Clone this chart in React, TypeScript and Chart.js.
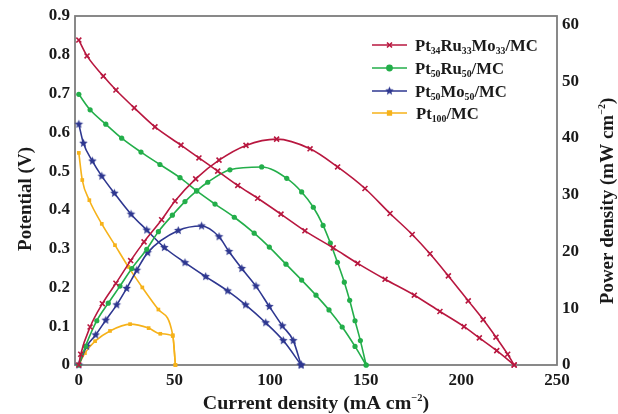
import React, { useEffect, useRef } from 'react';
import { Chart, registerables } from 'chart.js';
import { drawPoint } from 'chart.js/helpers';

Chart.register(...registerables);

// ---------- data (x = current density mA cm^-2, V = potential V, P = power density mW cm^-2)
const seriesNames = ['Pt34Ru33Mo33/MC', 'Pt50Ru50/MC', 'Pt50Mo50/MC', 'Pt100/MC'];
const seriesColors = ['#b8173f', '#23ae4a', '#2e3790', '#f6b21a'];

const ptRuMoPolX = [0, 4.3, 12.8, 19.4, 29.0, 39.8, 53.4, 62.8, 72.6, 83.1, 93.5, 105.7, 118.2, 133.0, 145.8, 160.1, 175.4, 188.8, 201.4, 209.4, 218.5, 227.6];
const ptRuMoPolV = [0.838, 0.797, 0.745, 0.709, 0.663, 0.614, 0.567, 0.534, 0.5, 0.463, 0.43, 0.389, 0.346, 0.302, 0.262, 0.221, 0.18, 0.138, 0.099, 0.07, 0.037, 0];
const ptRuMoPowX = [0, 1.0, 5.9, 12.3, 19.4, 27.1, 34.1, 43.3, 50.3, 61.1, 73.3, 87.4, 103.4, 120.9, 135.3, 149.6, 162.7, 174.3, 183.6, 193.2, 203.6, 211.4, 218.1, 224.2, 227.6];
const ptRuMoPowP = [0, 1.9, 6.7, 10.8, 14.4, 18.4, 21.7, 25.6, 28.9, 32.8, 36.1, 38.7, 39.8, 38.1, 34.9, 31.1, 26.7, 23.0, 19.6, 15.7, 11.3, 8.0, 4.9, 1.9, 0];

const ptRuPolX = [0, 5.9, 14.1, 22.4, 32.5, 42.4, 52.9, 61.6, 71.2, 81.3, 91.7, 99.6, 108.3, 116.5, 124.0, 130.8, 137.7, 144.4, 150.2];
const ptRuPolV = [0.698, 0.658, 0.621, 0.585, 0.549, 0.517, 0.483, 0.449, 0.415, 0.381, 0.34, 0.304, 0.26, 0.219, 0.18, 0.142, 0.098, 0.048, 0];
const ptRuPowX = [0, 3.5, 9.4, 15.4, 21.5, 27.7, 35.5, 41.6, 48.9, 55.5, 61.6, 67.4, 79.0, 95.6, 108.7, 116.5, 122.6, 127.7, 131.5, 135.2, 138.8, 141.6, 144.4, 147.2, 150.2];
const ptRuPowP = [0, 3.3, 7.8, 10.9, 13.9, 17.0, 20.4, 23.5, 26.4, 28.8, 30.7, 32.2, 34.4, 34.9, 32.9, 30.5, 27.8, 24.6, 21.5, 18.1, 14.6, 11.4, 7.8, 4.3, 0];

const ptMoPolX = [0, 2.4, 7.1, 12.0, 18.6, 27.3, 35.5, 44.7, 55.5, 66.3, 77.8, 87.2, 97.7, 106.9, 116.2];
const ptMoPolV = [0.621, 0.572, 0.526, 0.487, 0.443, 0.389, 0.348, 0.303, 0.264, 0.228, 0.191, 0.155, 0.109, 0.063, 0];
const ptMoPowX = [0, 4.1, 8.8, 14.1, 19.8, 25.0, 30.3, 36.0, 52.0, 64.2, 73.3, 78.5, 85.2, 92.6, 99.6, 106.4, 112.1, 116.2];
const ptMoPowP = [0, 3.3, 5.3, 7.9, 10.6, 13.5, 16.7, 19.8, 23.7, 24.5, 22.6, 20.0, 17.0, 13.9, 10.3, 6.9, 4.3, 0];

const ptPolX = [0, 1.8, 5.5, 12.0, 18.9, 25.9, 33.2, 41.6, 49.1, 50.5];
const ptPolV = [0.547, 0.477, 0.425, 0.364, 0.309, 0.253, 0.2, 0.143, 0.077, 0];
const ptPowX = [0, 3.2, 8.5, 16.3, 26.8, 36.5, 42.6, 49.1, 50.5];
const ptPowP = [0, 2.1, 4.2, 6.0, 7.2, 6.5, 5.5, 5.1, 0];

const xTicks = [0, 50, 100, 150, 200, 250];
const leftTicks = [0, 0.1, 0.2, 0.3, 0.4, 0.5, 0.6, 0.7, 0.8, 0.9];
const rightTicks = [0, 10, 20, 30, 40, 50, 60];

const xTitle: [string, number][] = [['Current density (mA cm', 0], ['\u22122', 1], [')', 0]];
const leftTitle: [string, number][] = [['Potential (V)', 0]];
const rightTitle: [string, number][] = [['Power density (mW cm', 0], ['\u22122', 1], [')', 0]];

// ---------- helpers
const SERIF = '"Liberation Serif", "Times New Roman", serif';

const zip = (xs: number[], ys: number[]) => xs.map((x, i) => ({ x, y: ys[i] }));

function makeStar(color: string, r: number) {
  const c = document.createElement('canvas');
  const s = Math.ceil(r * 2 + 2);
  c.width = s;
  c.height = s;
  const g = c.getContext('2d')!;
  g.fillStyle = color;
  g.beginPath();
  for (let i = 0; i < 10; i++) {
    const a = -Math.PI / 2 + (i * Math.PI) / 5;
    const rr = i % 2 === 0 ? r : r * 0.45;
    g.lineTo(s / 2 + rr * Math.cos(a), s / 2 + rr * Math.sin(a));
  }
  g.closePath();
  g.fill();
  return c;
}

function drawRich(ctx: CanvasRenderingContext2D, parts: [string, number][], x: number, y: number, size: number, align: 'left' | 'center', sx: number, ratio = 0.6) {
  const small = Math.round(size * ratio);
  const fontFor = (m: number) => `bold ${m === 0 ? size : small}px ${SERIF}`;
  let w = 0;
  for (const [t, m] of parts) {
    ctx.font = fontFor(m);
    w += ctx.measureText(t).width;
  }
  ctx.save();
  ctx.translate(x, y);
  ctx.scale(sx, 1);
  ctx.textAlign = 'left';
  ctx.textBaseline = 'alphabetic';
  let cx = align === 'center' ? -w / 2 : 0;
  for (const [t, m] of parts) {
    ctx.font = fontFor(m);
    const dy = m === 1 ? -size * 0.4 : m === -1 ? size * 0.2 : 0;
    ctx.fillText(t, cx, dy);
    cx += ctx.measureText(t).width;
  }
  ctx.restore();
}

function nameParts(name: string): [string, number][] {
  const out: [string, number][] = [];
  const re = /(\d+)|(\D+)/g;
  let m;
  while ((m = re.exec(name))) out.push([m[0], m[1] ? -1 : 0]);
  return out;
}

export default function App() {
  const ref = useRef<HTMLCanvasElement>(null);

  useEffect(() => {
    const canvas = ref.current!;
    const star = makeStar(seriesColors[2], 4.5);
    const styles: any[] = [
      { pointStyle: 'crossRot', pointRadius: 3.5, pointBorderWidth: 1.6 },
      { pointStyle: 'circle', pointRadius: 2.6, pointBorderWidth: 0 },
      { pointStyle: star, pointRadius: 4.5, pointBorderWidth: 0 },
      { pointStyle: 'rect', pointRadius: 2.6, pointBorderWidth: 0 },
    ];
    const pol = [zip(ptRuMoPolX, ptRuMoPolV), zip(ptRuPolX, ptRuPolV), zip(ptMoPolX, ptMoPolV), zip(ptPolX, ptPolV)];
    const pow = [zip(ptRuMoPowX, ptRuMoPowP), zip(ptRuPowX, ptRuPowP), zip(ptMoPowX, ptMoPowP), zip(ptPowX, ptPowP)];

    const datasets: any[] = [];
    seriesNames.forEach((name, i) => {
      const common = {
        borderColor: seriesColors[i],
        backgroundColor: seriesColors[i],
        pointBackgroundColor: seriesColors[i],
        pointBorderColor: seriesColors[i],
        borderWidth: 1.6,
        cubicInterpolationMode: 'monotone',
        clip: false,
        ...styles[i],
      };
      datasets.push({ label: name, data: pol[i], yAxisID: 'y', ...common });
      datasets.push({ label: name + ' power', data: pow[i], yAxisID: 'y1', ...common });
    });

    const tickFont = { family: SERIF, size: 17, weight: 'bold' as const };

    const decor = {
      id: 'decor',
      beforeDatasetsDraw(chart: any) {
        const { ctx, chartArea: a } = chart;
        ctx.save();
        ctx.strokeStyle = '#7d7d7d';
        ctx.lineWidth = 1.8;
        ctx.strokeRect(a.left, a.top, a.right - a.left, a.bottom - a.top);
        ctx.restore();
      },
      afterDraw(chart: any) {
        const { ctx } = chart;
        ctx.save();
        ctx.fillStyle = '#1a1a1a';
        // bottom title
        drawRich(ctx, xTitle, 316, 409, 19, 'center', 1.05, 0.55);
        // left title
        ctx.save();
        ctx.translate(31, 199);
        ctx.rotate(-Math.PI / 2);
        drawRich(ctx, leftTitle, 0, 0, 19, 'center', 1);
        ctx.restore();
        // right title
        ctx.save();
        ctx.translate(613, 201);
        ctx.rotate(-Math.PI / 2);
        drawRich(ctx, rightTitle, 0, 0, 19, 'center', 1, 0.55);
        ctx.restore();
        // legend
        const rows = [45, 68, 91, 113];
        seriesNames.forEach((name, i) => {
          const y = rows[i];
          ctx.strokeStyle = seriesColors[i];
          ctx.fillStyle = seriesColors[i];
          ctx.lineWidth = 1.6;
          ctx.beginPath();
          ctx.moveTo(372, y);
          ctx.lineTo(407, y);
          ctx.stroke();
          drawPoint(ctx, { pointStyle: styles[i].pointStyle, radius: styles[i].pointRadius, borderWidth: styles[i].pointBorderWidth || 0.01, rotation: 0 } as any, 389.5, y);
          ctx.fillStyle = '#1a1a1a';
          drawRich(ctx, nameParts(name), i === 3 ? 416 : 415, y + 5.5, 17, 'left', 0.98, 0.58);
        });
        ctx.restore();
      },
    };

    const chart = new Chart(canvas, {
      type: 'line',
      data: { datasets },
      options: {
        responsive: false,
        maintainAspectRatio: false,
        devicePixelRatio: 1,
        animation: false,
        layout: { padding: { top: 16, left: 0, right: 0, bottom: 0 } },
        plugins: { legend: { display: false }, tooltip: { enabled: false } },
        scales: {
          x: {
            type: 'linear',
            min: -2,
            max: 250,
            grid: { display: false, drawTicks: false },
            border: { display: false },
            ticks: { font: tickFont, color: '#1a1a1a', padding: 5, maxRotation: 0 },
            afterBuildTicks: (s: any) => { s.ticks = xTicks.map((v) => ({ value: v })); },
            afterFit: (s: any) => { s.height = 49; },
          },
          y: {
            type: 'linear',
            position: 'left',
            min: 0,
            max: 0.9,
            grid: { display: false, drawTicks: false },
            border: { display: false },
            ticks: { font: tickFont, color: '#1a1a1a', padding: 5, callback: (v: any) => (v === 0 ? '0' : Number(v).toFixed(1)) },
            afterBuildTicks: (s: any) => { s.ticks = leftTicks.map((v) => ({ value: v })); },
            afterFit: (s: any) => { s.width = 75; },
          },
          y1: {
            type: 'linear',
            position: 'right',
            min: 0,
            max: 61.5,
            grid: { display: false, drawTicks: false },
            border: { display: false },
            ticks: { font: tickFont, color: '#1a1a1a', padding: 5 },
            afterBuildTicks: (s: any) => { s.ticks = rightTicks.map((v) => ({ value: v })); },
            afterFit: (s: any) => { s.width = 61; },
          },
        },
      } as any,
      plugins: [decor],
    });
    return () => chart.destroy();
  }, []);

  return (
    <div style={{ position: 'fixed', left: 0, top: 0, width: 618, height: 414, background: '#fff' }}>
      <canvas ref={ref} width={618} height={414} style={{ width: 618, height: 414, display: 'block' }} />
    </div>
  );
}
